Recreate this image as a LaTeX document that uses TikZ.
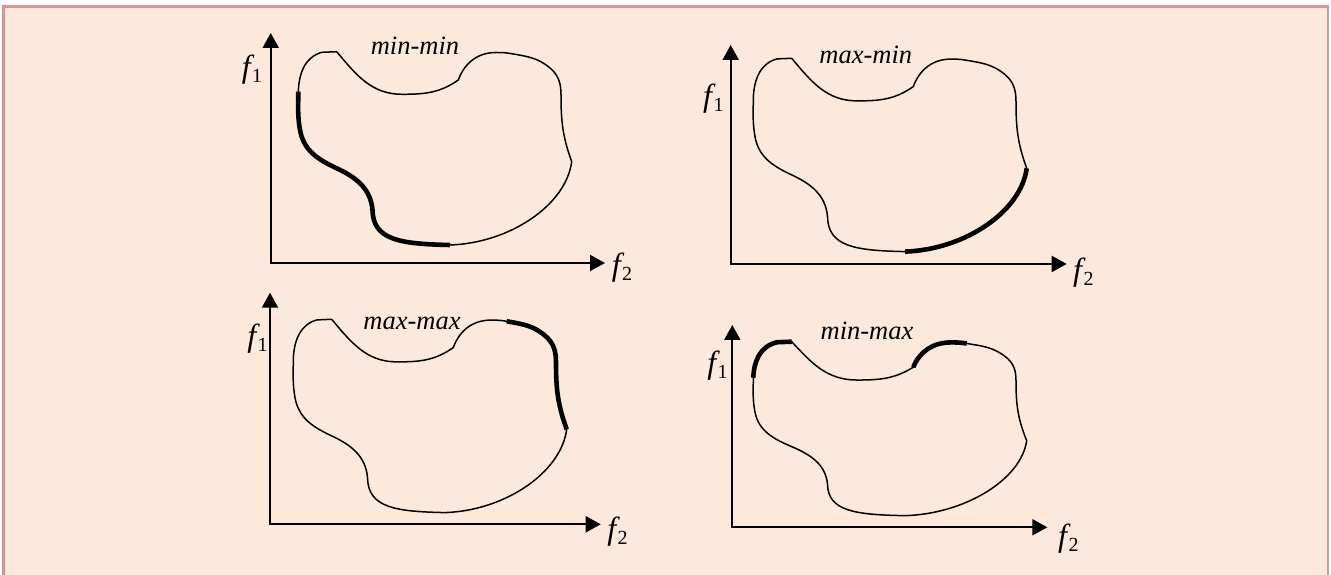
\documentclass[tikz,border=0pt]{standalone}
\usepackage{fontspec}
\newfontfamily\lblfont{Liberation Serif}
\usetikzlibrary{arrows.meta}
\definecolor{bgpeach}{HTML}{FCE9DB}
\definecolor{framered}{HTML}{D99594}
\newcommand\fsub[1]{{\fontsize{32}{34}\selectfont\itshape f}\kern1.5pt\raisebox{-5pt}{\fontsize{20}{21}\selectfont\upshape #1}}
\tikzset{
  outline/.style={line width=1.5pt, line cap=round, line join=round},
  front/.style={line width=4.6pt, line cap=butt},
  axis/.style={line width=2pt, {Triangle[length=15pt,width=16pt]}-{Triangle[length=15pt,width=16pt]}},
  lbl/.style={inner sep=0pt, font=\lblfont\itshape\fontsize{26.5}{30}\selectfont},
  flbl/.style={inner sep=0pt, font=\lblfont},
}
\def\segA{(298.3,483.3) to[out=88,in=195] (322,522.7) -- (336.7,523.3)}
\def\segB{(336.7,523.3) to[out=-50,in=180] (402,480.7) to[out=0,in=215] (458.3,495)}
\def\segC{(458.3,495) to[out=70,in=180] (496,522.5) to[out=0,in=170] (511.7,521.3)}
\def\segD{(511.7,521.3) to[out=-10,in=140] (550,507) to[out=-40,in=90] (561,480) to[out=-90,in=110] (571.7,413.3)}
\def\segE{(571.7,413.3) .. controls (566,370) and (510,332) .. (450,330)}
\def\segF{(450,330) .. controls (400,331) and (373,335) .. (372.5,365) to[out=95,in=-25] (336.7,406.7) to[out=155,in=-80] (300,445) to[out=100,in=-90] (298.3,483.3)}
\def\blob{\draw[outline] \segA \segB \segC \segD \segE \segF;}
\begin{document}
\begin{tikzpicture}[x=1pt,y=1pt]
\useasboundingbox (0,0) rectangle (1331,575);
\fill[white] (0,0) rectangle (1331,575);
\fill[bgpeach] (3.7,0) rectangle (1328,568.3);
\draw[framered, line width=2.6pt, line cap=butt, line join=miter] (3.7,0) -- (3.7,568.3) -- (1328,568.3) -- (1328,0);

% panel 1: min-min
\coordinate (o1) at (270.7,312);
\coordinate (y1) at (270.7,542);
\coordinate (x1) at (605,312);
\draw[axis] (y1) -- (o1) -- (x1);
\node[flbl] (f1a) at (252,505) {\fsub{1}};
\node[flbl] (f2a) at (622,307) {\fsub{2}};
\node[lbl, anchor=base] (t1) at (415,520) {min-min};
\begin{scope}
\blob
\draw[front] \segF;
\end{scope}

% panel 2: max-min
\coordinate (o2) at (730.7,311);
\coordinate (y2) at (730.7,530);
\coordinate (x2) at (1066.7,311);
\draw[axis] (y2) -- (o2) -- (x2);
\node[flbl] (f1b) at (713.3,476) {\fsub{1}};
\node[flbl] (f2b) at (1083.3,302.5) {\fsub{2}};
\node[lbl, anchor=base] (t2) at (865.8,511) {max-min};
\begin{scope}[shift={(455,-6.6)}]
\blob
\draw[front] \segE;
\end{scope}

% panel 3: max-max
\coordinate (o3) at (270,50.7);
\coordinate (y3) at (270,282.3);
\coordinate (x3) at (600.7,50.7);
\draw[axis] (y3) -- (o3) -- (x3);
\node[flbl] (f1c) at (257.5,236) {\fsub{1}};
\node[flbl] (f2c) at (617.5,43.3) {\fsub{2}};
\node[lbl, anchor=base] (t3) at (412,245) {max-max};
\begin{scope}[shift={(-5,-267.6)}]
\blob
\draw[front] \segD;
\end{scope}

% panel 4: min-max
\coordinate (o4) at (732.3,47.7);
\coordinate (y4) at (732.3,250);
\coordinate (x4) at (1047.3,47.7);
\draw[axis] (y4) -- (o4) -- (x4);
\node[flbl] (f1d) at (717.5,209) {\fsub{1}};
\node[flbl] (f2d) at (1068.3,36) {\fsub{2}};
\node[lbl, anchor=base] (t4) at (867,235.7) {min-max};
\begin{scope}[shift={(455,-237.67)}, yscale=0.9]
\blob
\draw[front] \segA;
\draw[front] \segC;
\end{scope}
\end{tikzpicture}
\end{document}
